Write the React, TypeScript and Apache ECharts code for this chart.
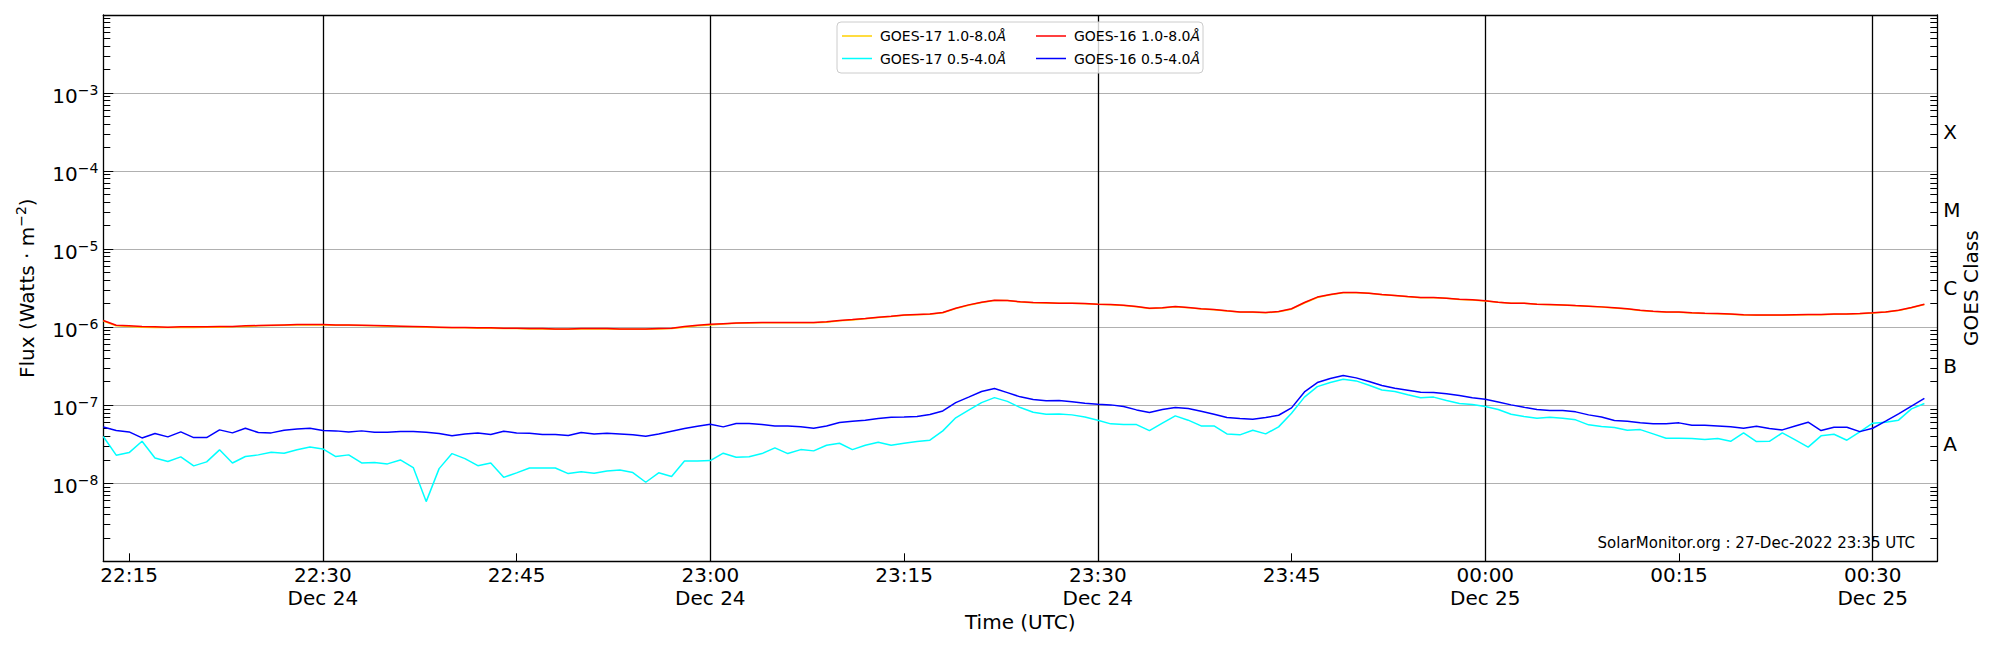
import React, { useEffect, useRef } from 'react';
import * as echarts from 'echarts';

// ---- time categories: one per minute, 22:13 Dec 24 .. 00:35 Dec 25 ----
const START_MINUTE = 22 * 60 + 13;
const CATEGORY_COUNT = 143;
const timeCategories: string[] = [];
for (let i = 0; i < CATEGORY_COUNT; i++) {
  const t = START_MINUTE + i;
  const h = Math.floor(t / 60) % 24;
  const m = t % 60;
  const day = t >= 24 * 60 ? 'Dec 25' : 'Dec 24';
  timeCategories.push(`${String(h).padStart(2, '0')}:${String(m).padStart(2, '0')} ${day}`);
}

// ---- series values (one per minute from 22:13) ----
const LONG_UNIT = 1e-6; // W m^-2
const SHORT_UNIT = 1e-8; // W m^-2

const goes17Long = [
  1.20, 1.04, 1.02, 1.00, 0.99, 0.99, 0.99, 0.99, 1.00, 1.00,
  1.01, 1.02, 1.04, 1.05, 1.06, 1.07, 1.07, 1.07, 1.06, 1.06,
  1.05, 1.04, 1.03, 1.02, 1.01, 1.00, 0.99, 0.98, 0.98, 0.97,
  0.97, 0.96, 0.96, 0.95, 0.95, 0.94, 0.94, 0.95, 0.95, 0.95,
  0.94, 0.94, 0.94, 0.95, 0.96, 1.00, 1.04, 1.07, 1.10, 1.12,
  1.13, 1.14, 1.14, 1.14, 1.14, 1.14, 1.16, 1.21, 1.24, 1.28,
  1.33, 1.37, 1.42, 1.44, 1.46, 1.53, 1.73, 1.91, 2.07, 2.20,
  2.19, 2.10, 2.06, 2.04, 2.02, 2.02, 2.00, 1.96, 1.94, 1.90,
  1.83, 1.74, 1.76, 1.83, 1.78, 1.71, 1.67, 1.61, 1.56, 1.55,
  1.53, 1.58, 1.70, 2.04, 2.40, 2.60, 2.76, 2.77, 2.72, 2.61,
  2.54, 2.46, 2.39, 2.39, 2.34, 2.27, 2.23, 2.17, 2.08, 2.02,
  2.02, 1.96, 1.94, 1.92, 1.88, 1.85, 1.81, 1.76, 1.71, 1.64,
  1.59, 1.56, 1.55, 1.52, 1.50, 1.49, 1.46, 1.43, 1.42, 1.42,
  1.42, 1.43, 1.44, 1.44, 1.46, 1.47, 1.49, 1.52, 1.56, 1.63,
  1.77, 1.95,
];

const goes16Long = [
  1.22, 1.06, 1.04, 1.02, 1.01, 1.00, 1.01, 1.01, 1.01, 1.02,
  1.02, 1.04, 1.05, 1.06, 1.07, 1.08, 1.08, 1.08, 1.07, 1.07,
  1.06, 1.05, 1.04, 1.03, 1.02, 1.01, 1.00, 0.99, 0.99, 0.98,
  0.98, 0.97, 0.97, 0.96, 0.96, 0.95, 0.95, 0.96, 0.96, 0.96,
  0.95, 0.95, 0.95, 0.96, 0.97, 1.02, 1.06, 1.09, 1.11, 1.13,
  1.14, 1.15, 1.15, 1.15, 1.15, 1.15, 1.17, 1.22, 1.25, 1.29,
  1.34, 1.38, 1.43, 1.45, 1.47, 1.54, 1.75, 1.93, 2.09, 2.22,
  2.20, 2.11, 2.07, 2.05, 2.03, 2.03, 2.01, 1.97, 1.95, 1.91,
  1.84, 1.75, 1.77, 1.84, 1.79, 1.72, 1.68, 1.62, 1.57, 1.56,
  1.54, 1.59, 1.72, 2.07, 2.43, 2.62, 2.78, 2.78, 2.73, 2.62,
  2.55, 2.47, 2.40, 2.40, 2.35, 2.28, 2.24, 2.18, 2.09, 2.03,
  2.03, 1.97, 1.95, 1.93, 1.89, 1.86, 1.82, 1.77, 1.72, 1.65,
  1.60, 1.57, 1.56, 1.53, 1.51, 1.50, 1.47, 1.44, 1.43, 1.43,
  1.43, 1.44, 1.45, 1.45, 1.47, 1.48, 1.50, 1.53, 1.57, 1.65,
  1.79, 1.97,
];

const goes17Short = [
  3.97, 2.29, 2.47, 3.45, 2.11, 1.90, 2.18, 1.67, 1.88, 2.68,
  1.82, 2.20, 2.31, 2.50, 2.42, 2.68, 2.92, 2.75, 2.20, 2.31,
  1.82, 1.84, 1.77, 1.99, 1.59, 0.582, 1.54, 2.40, 2.07, 1.68,
  1.82, 1.19, 1.36, 1.57, 1.57, 1.57, 1.33, 1.40, 1.34, 1.44,
  1.48, 1.37, 1.03, 1.36, 1.22, 1.93, 1.93, 1.95, 2.43, 2.15,
  2.18, 2.40, 2.84, 2.40, 2.70, 2.60, 3.07, 3.26, 2.70, 3.07,
  3.36, 3.07, 3.26, 3.42, 3.56, 4.69, 6.89, 8.63, 10.8, 12.5,
  11.2, 9.33, 8.13, 7.67, 7.74, 7.52, 7.08, 6.43, 5.77, 5.65,
  5.65, 4.73, 5.88, 7.30, 6.43, 5.43, 5.43, 4.29, 4.17, 4.78,
  4.29, 5.28, 7.89, 12.7, 17.3, 19.5, 21.5, 20.5, 18.0, 15.7,
  15.0, 13.6, 12.5, 12.7, 11.5, 10.5, 10.2, 9.61, 8.80, 7.67,
  7.16, 6.81, 7.02, 6.81, 6.49, 5.60, 5.32, 5.17, 4.78, 4.87,
  4.29, 3.78, 3.78, 3.74, 3.63, 3.74, 3.45, 4.41, 3.42, 3.45,
  4.41, 3.59, 2.90, 4.05, 4.25, 3.56, 4.55, 5.88, 6.06, 6.43,
  8.98, 10.5,
];

const goes16Short = [
  5.27, 4.73, 4.55, 3.81, 4.33, 3.93, 4.55, 3.85, 3.85, 4.83,
  4.42, 5.07, 4.47, 4.42, 4.78, 4.97, 5.07, 4.73, 4.69, 4.55,
  4.69, 4.51, 4.51, 4.60, 4.60, 4.51, 4.33, 4.05, 4.29, 4.42,
  4.21, 4.64, 4.42, 4.38, 4.21, 4.21, 4.08, 4.47, 4.29, 4.38,
  4.29, 4.17, 4.01, 4.29, 4.65, 5.02, 5.38, 5.71, 5.28, 5.82,
  5.82, 5.65, 5.43, 5.43, 5.28, 5.07, 5.43, 6.00, 6.24, 6.43,
  6.75, 7.02, 7.08, 7.16, 7.59, 8.45, 10.8, 12.7, 15.0, 16.4,
  14.5, 12.8, 11.8, 11.4, 11.5, 11.1, 10.6, 10.3, 10.1, 9.61,
  8.71, 8.05, 8.80, 9.33, 9.06, 8.38, 7.67, 6.95, 6.75, 6.62,
  6.95, 7.44, 9.24, 14.8, 19.5, 22.0, 24.0, 22.4, 20.1, 17.9,
  16.5, 15.6, 14.7, 14.5, 14.0, 13.3, 12.5, 11.9, 11.0, 10.1,
  9.42, 8.80, 8.55, 8.55, 8.22, 7.52, 7.08, 6.36, 6.24, 5.94,
  5.77, 5.77, 5.94, 5.54, 5.54, 5.43, 5.28, 5.07, 5.38, 5.02,
  4.83, 5.43, 6.06, 4.73, 5.22, 5.22, 4.59, 5.07, 6.24, 7.74,
  9.71, 12.2,
];

// ---- axis labels ----
const seriesNames = ['GOES-17 1.0-8.0Å', 'GOES-17 0.5-4.0Å', 'GOES-16 1.0-8.0Å', 'GOES-16 0.5-4.0Å'];
const seriesColors = ['#FFD000', '#00FFFF', '#FF0000', '#0000FF'];
const fluxExponentsLabelled = [-8, -7, -6, -5, -4, -3];
const goesClassLevels = [-7.5, -6.5, -5.5, -4.5, -3.5];
const goesClassLetters = ['A', 'B', 'C', 'M', 'X'];
const FONT = 'DejaVu Sans';

const minuteOf = (cat: string) => parseInt(cat.split(' ')[0].split(':')[1], 10);

const legendCommon = {
  orient: 'vertical',
  top: 29,
  icon: 'rect',
  itemWidth: 30,
  itemHeight: 1.5,
  itemGap: 8.5,
  padding: 0,
  selectedMode: false,
  z: 20,
  formatter: (n: string) => n.replace('Å', '{i|Å}'),
  textStyle: {
    fontFamily: FONT, fontSize: 14, lineHeight: 14, color: '#000', padding: [0, 0, 0, 3],
    rich: { i: { fontFamily: FONT, fontSize: 14, lineHeight: 14, color: '#000', fontStyle: 'italic' } },
  },
};

export default function App() {
  const ref = useRef<HTMLDivElement>(null);

  useEffect(() => {
    if (!ref.current) return;
    const chart = echarts.init(ref.current, undefined, { renderer: 'svg' });

    const isQuarter = (_i: number, v: string) => minuteOf(v) % 15 === 0;
    const isHalf = (_i: number, v: string) => minuteOf(v) % 30 === 0;

    const axisLineStyle = { color: '#000', width: 1.3 };

    const option: any = {
      animation: false,
      backgroundColor: '#ffffff',
      textStyle: { fontFamily: FONT },
      grid: { left: 103.3, right: 62.7, top: 15, bottom: 88.7, containLabel: false },
      legend: [
        { ...legendCommon, data: [seriesNames[0], seriesNames[1]], left: 842 },
        { ...legendCommon, data: [seriesNames[2], seriesNames[3]], left: 1036 },
      ],
      graphic: [
        {
          type: 'rect',
          z: 15,
          shape: { x: 837, y: 22, width: 366, height: 51, r: 4 },
          style: { fill: 'rgba(255,255,255,0.8)', stroke: '#cccccc', lineWidth: 1 },
        },
        {
          type: 'text',
          z: 15,
          x: 1915,
          y: 543,
          style: {
            text: 'SolarMonitor.org : 27-Dec-2022 23:35 UTC',
            fill: '#000',
            fontFamily: FONT,
            fontSize: 15,
            align: 'right',
            verticalAlign: 'middle',
          },
        },
      ],
      xAxis: [
        {
          type: 'category',
          data: timeCategories,
          boundaryGap: false,
          position: 'bottom',
          axisLine: { show: true, onZero: false, lineStyle: axisLineStyle },
          axisTick: { show: true, inside: true, length: 8, interval: isQuarter, lineStyle: { color: '#000', width: 1 } },
          axisLabel: {
            show: true,
            interval: isQuarter,
            margin: 2,
            fontFamily: FONT,
            fontSize: 20,
            lineHeight: 23,
            color: '#000',
            formatter: (v: string) => {
              const [t, ...d] = v.split(' ');
              return minuteOf(v) % 30 === 0 ? `${t}\n${d.join(' ')}` : t;
            },
          },
          splitLine: { show: true, interval: isHalf, lineStyle: { color: '#000', width: 1.3 } },
          name: 'Time (UTC)',
          nameLocation: 'middle',
          nameGap: 51,
          nameMoveOverlap: false,
          nameTextStyle: { fontFamily: FONT, fontSize: 20, color: '#000' },
        },
        {
          type: 'category',
          data: timeCategories,
          boundaryGap: false,
          position: 'top',
          axisLine: { show: true, onZero: false, lineStyle: axisLineStyle },
          axisTick: { show: false },
          axisLabel: { show: false },
          splitLine: { show: false },
        },
      ],
      yAxis: [
        {
          type: 'log',
          logBase: 10,
          min: 1e-9,
          max: 1e-2,
          position: 'left',
          axisLine: { show: true, onZero: false, lineStyle: axisLineStyle },
          axisTick: { show: true, inside: true, length: 10, lineStyle: { color: '#000', width: 1 } },
          minorTick: { show: true, splitNumber: 9, length: 7, lineStyle: { color: '#000', width: 1 } },
          splitLine: { show: true, lineStyle: { color: '#b0b0b0', width: 1 } },
          axisLabel: {
            margin: 5,
            formatter: (v: number) => {
              const e = Math.round(Math.log10(v));
              return fluxExponentsLabelled.includes(e) ? `{b|10}{s|−${-e}}` : '';
            },
            rich: {
              b: { fontFamily: FONT, fontSize: 20, lineHeight: 20, color: '#000', padding: [5, 0, 0, 0] },
              s: { fontFamily: FONT, fontSize: 14, lineHeight: 14, color: '#000', verticalAlign: 'top' },
            },
          },
          name: '{n|Flux (Watts · m}{s|−2}{n|)}',
          nameLocation: 'middle',
          nameRotate: 90,
          nameGap: 69,
          nameMoveOverlap: false,
          nameTextStyle: {
            rich: {
              n: { fontFamily: FONT, fontSize: 20, lineHeight: 20, color: '#000', padding: [5, 0, 0, 0] },
              s: { fontFamily: FONT, fontSize: 14, lineHeight: 14, color: '#000', verticalAlign: 'top' },
            },
          },
        },
        {
          type: 'log',
          logBase: 10,
          min: 1e-9,
          max: 1e-2,
          position: 'right',
          axisLine: { show: true, onZero: false, lineStyle: axisLineStyle },
          axisTick: { show: false, inside: true },
          minorTick: { show: true, splitNumber: 9, length: 7, lineStyle: { color: '#000', width: 1 } },
          splitLine: { show: false },
          axisLabel: { show: false },
        },
        {
          type: 'value',
          min: -9,
          max: -2,
          interval: 0.5,
          position: 'right',
          axisLine: { show: false },
          axisTick: { show: false },
          splitLine: { show: false },
          axisLabel: {
            margin: 6,
            fontFamily: FONT,
            fontSize: 20,
            color: '#000',
            padding: [4, 0, 0, 0],
            formatter: (v: number) => {
              const k = goesClassLevels.findIndex((l) => Math.abs(l - v) < 1e-6);
              return k >= 0 ? goesClassLetters[k] : '';
            },
          },
          name: 'GOES Class',
          nameLocation: 'middle',
          nameRotate: 90,
          nameGap: 24,
          nameMoveOverlap: false,
          nameTextStyle: { fontFamily: FONT, fontSize: 20, color: '#000' },
        },
      ],
      series: [
        { data: goes17Long.map((v) => v * LONG_UNIT), idx: 0 },
        { data: goes17Short.map((v) => v * SHORT_UNIT), idx: 1 },
        { data: goes16Long.map((v) => v * LONG_UNIT), idx: 2 },
        { data: goes16Short.map((v) => v * SHORT_UNIT), idx: 3 },
      ].map((s) => ({
        type: 'line',
        name: seriesNames[s.idx],
        data: s.data,
        xAxisIndex: 0,
        yAxisIndex: 0,
        symbol: 'none',
        showSymbol: false,
        color: seriesColors[s.idx],
        lineStyle: { color: seriesColors[s.idx], width: 1.5 },
        z: 2,
      })),
    };

    chart.setOption(option);
    return () => chart.dispose();
  }, []);

  return (
    <div
      ref={ref}
      style={{ position: 'fixed', left: 0, top: 0, width: '2000px', height: '650px', background: '#fff' }}
    />
  );
}
